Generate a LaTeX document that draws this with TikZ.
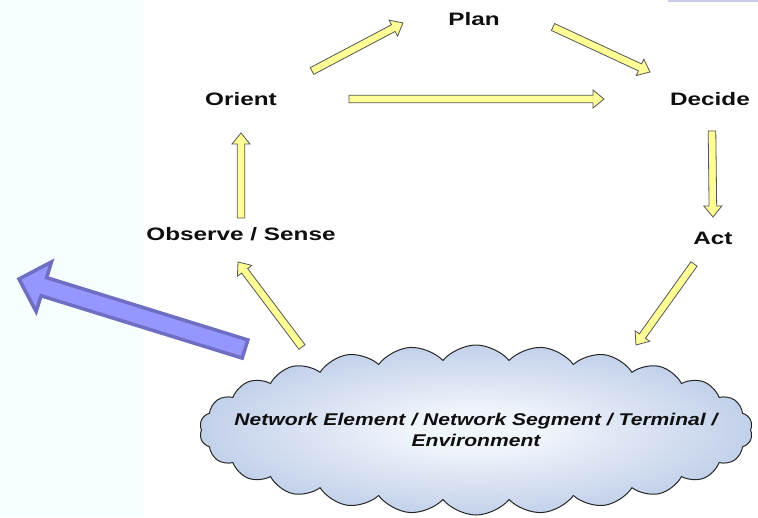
\documentclass[tikz,border=0pt]{standalone}
\usepackage{fontspec}
\usetikzlibrary{calc,shapes.symbols}
\newfontfamily\labfont[FakeStretch=1.35]{Liberation Sans}
\newfontfamily\cloudfont[FakeStretch=1.24]{Liberation Sans}
\definecolor{stripc}{RGB}{246,255,255}
\definecolor{lavline}{RGB}{200,200,232}
\definecolor{yfill}{RGB}{255,255,150}
\definecolor{ydraw}{RGB}{85,85,85}
\definecolor{bfill}{RGB}{150,150,255}
\definecolor{bdraw}{RGB}{110,110,195}
\definecolor{cloudin}{RGB}{240,244,251}
\definecolor{cloudout}{RGB}{150,175,218}
\definecolor{txt}{RGB}{15,15,15}
\pgfdeclareradialshading{cloudshade}{\pgfpoint{0bp}{0bp}}{color(0bp)=(cloudin); color(6bp)=(cloudin); color(43bp)=(cloudout); color(50bp)=(cloudout)}
\newcommand\yarr[2]{%
  \path ($(#2)!11pt!(#1)$) coordinate (hb);
  \draw[yarrow] ($(#1)!3.8pt!90:(#2)$) -- ($(hb)!3.8pt!90:(#2)$) -- ($(hb)!9pt!90:(#2)$) -- (#2)
    -- ($(hb)!9pt!-90:(#2)$) -- ($(hb)!3.8pt!-90:(#2)$) -- ($(#1)!3.8pt!-90:(#2)$) -- cycle;}
\begin{document}
\begin{tikzpicture}[x=1pt,y=-1pt,
  lab/.style={text=txt,font=\labfont\bfseries\fontsize{18}{21}\selectfont,inner sep=0pt,anchor=base},
  yarrow/.style={fill=yfill,draw=ydraw,line width=0.8pt,line join=miter},
  barrow/.style={fill=bfill,draw=bdraw,line width=3.5pt,line join=miter},
  cloudtext/.style={text=txt,font=\cloudfont\bfseries\itshape\fontsize{17}{21}\selectfont,align=center,inner sep=0pt}]
\useasboundingbox (0,0) rectangle (758,517);
\fill[white] (0,0) rectangle (758,517);
\fill[stripc] (0,0) rectangle (144,517);
\fill[lavline] (668,0) rectangle (758,2);

% labels
\node[lab] (plan) at (474,25) {Plan};
\node[lab] (orient) at (241,105.5) {Orient};
\node[lab] (decide) at (710,105.5) {Decide};
\node[lab] (observe) at (241,240.5) {Observe / Sense};
\node[lab] (act) at (713,244) {Act};

% cloud
\node[cloud, cloud puffs=26, cloud puff arc=100, cloud ignores aspect,
      minimum width=553pt, minimum height=170pt, draw=black!85, line width=1pt,
      shading=cloudshade] (env) at (476,430) {};
\node[cloudtext] (envtext) at (476,430) {Network Element / Network Segment / Terminal /\\Environment};

% arrow ends
\coordinate (op-a) at (312,71);  \coordinate (op-b) at (403,23);
\coordinate (pd-a) at (553,27);  \coordinate (pd-b) at (650,72);
\coordinate (od-a) at (349,99);  \coordinate (od-b) at (604,99);
\coordinate (da-a) at (712,131); \coordinate (da-b) at (713,217);
\coordinate (ae-a) at (694,264); \coordinate (ae-b) at (636,345);
\coordinate (eo-a) at (302,347); \coordinate (eo-b) at (238,262);
\coordinate (oo-a) at (241,218); \coordinate (oo-b) at (241,133);

\yarr{op-a}{op-b}
\yarr{pd-a}{pd-b}
\yarr{od-a}{od-b}
\yarr{da-a}{da-b}
\yarr{ae-a}{ae-b}
\yarr{eo-a}{eo-b}
\yarr{oo-a}{oo-b}

% big blue arrow
\coordinate (bt) at (245,349);
\coordinate (bh) at (19,279);
\coordinate (bb) at ($(bh)!26pt!(bt)$);
\draw[barrow] ($(bt)!9.5pt!90:(bh)$) -- ($(bb)!9.5pt!90:(bh)$) -- ($(bb)!26pt!90:(bh)$) -- (bh)
  -- ($(bb)!26pt!-90:(bh)$) -- ($(bb)!9.5pt!-90:(bh)$) -- ($(bt)!9.5pt!-90:(bh)$) -- cycle;
\end{tikzpicture}
\end{document}
